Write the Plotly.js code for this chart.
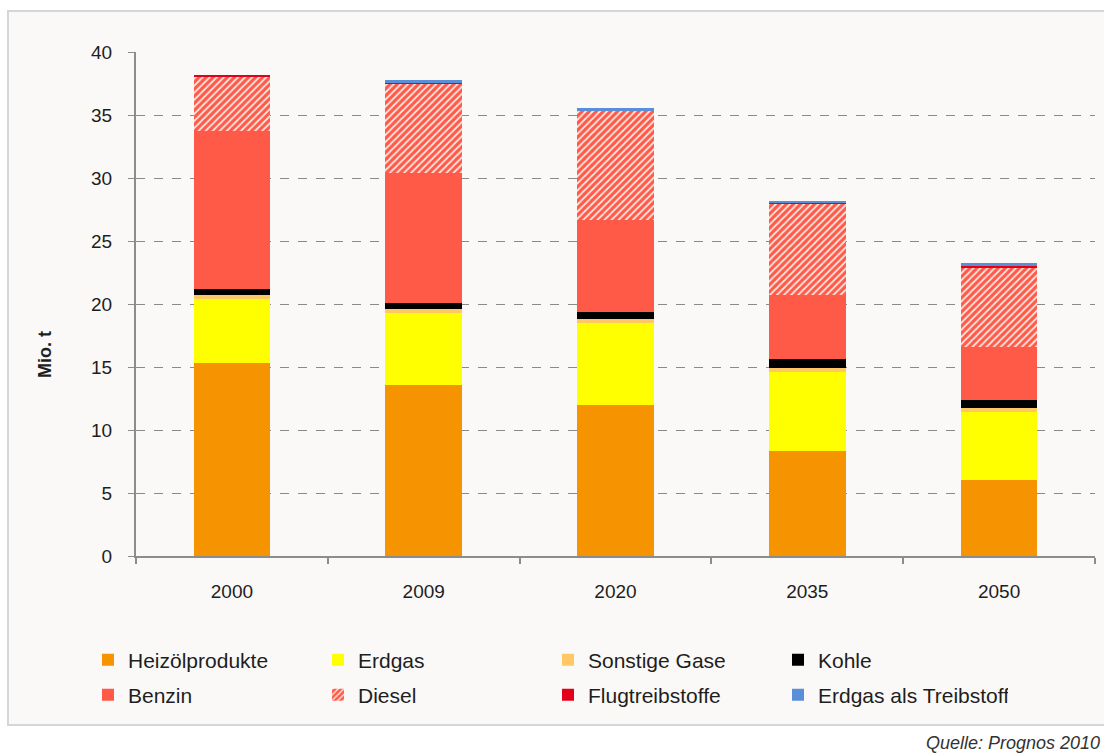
<!DOCTYPE html>
<html>
<head>
<meta charset="utf-8">
<script src="https://cdn.plot.ly/plotly-3.0.1.min.js"></script>
<style>body{margin:0;padding:0;background:#fff;} #chart{width:1104px;height:754px;}</style>
</head>
<body>
<div id="chart"></div>
<script>
const years = ['2000', '2009', '2020', '2035', '2050'];
const heizoel = [15.3, 13.6, 12.0, 8.3, 6.0];
const erdgas = [5.1, 5.7, 6.5, 6.3, 5.4];
const sonstigeGase = [0.3, 0.3, 0.3, 0.3, 0.35];
const kohle = [0.5, 0.5, 0.6, 0.7, 0.6];
const benzin = [12.5, 10.3, 7.3, 5.1, 4.2];
const diesel = [4.35, 7.1, 8.6, 7.2, 6.3];
const flug = [0.15, 0.05, 0.05, 0.15, 0.15];
const erdgasTreib = [0.0, 0.2, 0.2, 0.15, 0.25];
const yTicks = [0, 5, 10, 15, 20, 25, 30, 35, 40];

const FONT = 'Liberation Sans, Arial, sans-serif';
const TXT = '#1e1e1e';

function bar(name, vals, color, legend, extra) {
  const t = {type: 'bar', name: name, x: years, y: vals, legend: legend,
    marker: {color: color, line: {width: 0}}, hoverinfo: 'skip'};
  return Object.assign(t, extra || {});
}

const traces = [
  bar('Heizölprodukte', heizoel, '#F59300', 'legend'),
  bar('Erdgas', erdgas, '#FFFF00', 'legend'),
  bar('Sonstige Gase', sonstigeGase, '#FFC864', 'legend'),
  bar('Kohle', kohle, '#000000', 'legend'),
  bar('Benzin', benzin, '#FF5A47', 'legend2'),
  bar('Diesel', diesel, '#FF5A47', 'legend2', {marker: {color: '#FF5A47', line: {width: 0},
      pattern: {shape: '/', fgcolor: '#FFFFFF', bgcolor: '#FF5A47', size: 5, solidity: 0.35, fgopacity: 0.85}}}),
  bar('Flugtreibstoffe', flug, '#E3001B', 'legend2'),
  bar('Erdgas als Treibstoff', erdgasTreib, '#5A8FD8', 'legend2')
];

const px = p => (p - 136) / 959;
const py = p => (556 - p) / 504;

const legendCommon = {orientation: 'h', xanchor: 'left', yanchor: 'middle', x: px(88),
  bgcolor: 'rgba(0,0,0,0)', entrywidth: 185, entrywidthmode: 'pixels', itemwidth: 30,
  font: {family: FONT, size: 21, color: TXT}, traceorder: 'normal', itemclick: false};

const layout = {
  width: 1104, height: 754,
  margin: {l: 136, r: 9, t: 52, b: 198},
  paper_bgcolor: '#FFFFFF', plot_bgcolor: 'rgba(0,0,0,0)',
  barmode: 'stack', bargap: 0.6,
  font: {family: FONT, color: TXT},
  showlegend: true,
  legend: Object.assign({}, legendCommon, {y: py(660)}),
  legend2: Object.assign({}, legendCommon, {y: py(695)}),
  xaxis: {
    type: 'category', tickson: 'boundaries', ticks: 'outside', ticklen: 6, tickcolor: '#8c8c8c', tickwidth: 2,
    showline: true, linecolor: '#8c8c8c', linewidth: 2, showgrid: false, zeroline: false,
    tickfont: {family: FONT, size: 19, color: TXT}, ticklabelstandoff: 17
  },
  yaxis: {
    range: [0, 40], tickvals: yTicks, ticks: 'outside', ticklen: 6, tickcolor: '#8c8c8c', tickwidth: 1,
    showline: true, linecolor: '#8c8c8c', linewidth: 2, zeroline: false,
    showgrid: true, gridcolor: '#8a8a8a', griddash: 'dash', gridwidth: 1,
    tickfont: {family: FONT, size: 19, color: TXT}, ticklabelstandoff: 12
  },
  shapes: [{type: 'rect', xref: 'paper', yref: 'paper', layer: 'below',
    x0: px(8), x1: px(1112), y0: py(725), y1: py(11),
    fillcolor: '#FAF9F7', line: {color: '#D6D6D6', width: 2}}],
  annotations: [
    {xref: 'paper', yref: 'paper', x: px(45), y: py(355), xanchor: 'center', yanchor: 'middle',
     textangle: -90, text: '<b>Mio. t</b>', showarrow: false, font: {family: FONT, size: 18, color: TXT}},
    {xref: 'paper', yref: 'paper', x: px(1102), y: py(743), xanchor: 'right', yanchor: 'middle',
     text: '<i>Quelle: Prognos 2010</i>', showarrow: false, font: {family: FONT, size: 18, color: '#333333'}}
  ]
};

Plotly.newPlot('chart', traces, layout, {displayModeBar: false, staticPlot: true});
</script>
</body>
</html>
